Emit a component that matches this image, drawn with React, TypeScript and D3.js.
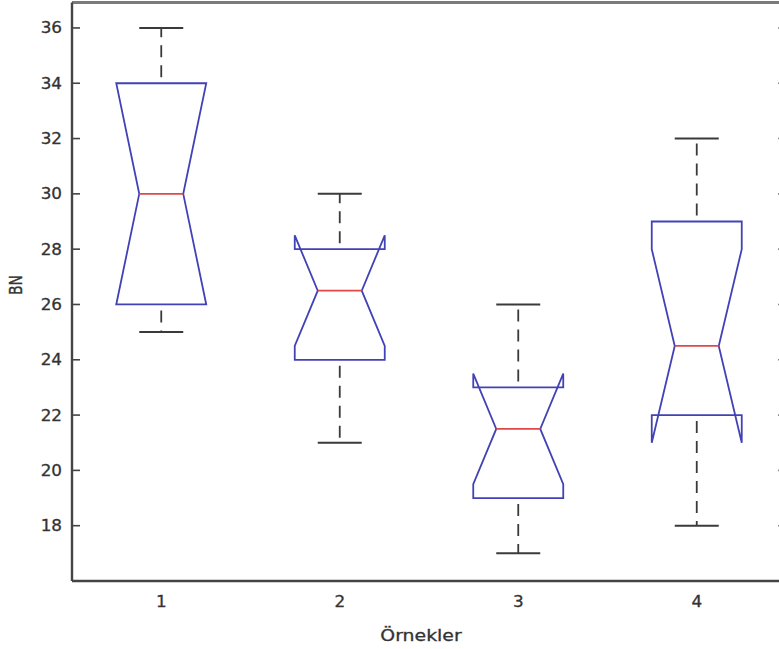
import { useEffect, useRef } from "react";
import * as d3 from "d3";

// boxplot stats (BN per sample)
const categories = ["1", "2", "3", "4"];
const whiskerLow = [25, 21, 17, 18];
const q1 = [26, 24, 19, 22];
const medians = [30, 26.5, 21.5, 24.5];
const q3 = [34, 28, 23, 29];
const whiskerHigh = [36, 30, 26, 32];
const notchLow = [26, 24.5, 19.5, 21];
const notchHigh = [34, 28.5, 23.5, 28];
const yTicks = [18, 20, 22, 24, 26, 28, 30, 32, 34, 36];

function BoxPlot() {
  const ref = useRef<SVGSVGElement | null>(null);
  const width = 779;
  const height = 649;

  useEffect(() => {
    const svg = d3.select(ref.current);
    svg.selectAll("*").remove();

    const x = d3.scaleLinear().domain([0.5, 4.5]).range([72, 786]);
    const y = d3.scaleLinear().domain([16, 36.92]).range([581, 2.5]);

    const boxHalf = 45;
    const notchHalf = 22;
    const capHalf = 22;
    const font = "'DejaVu Sans', Verdana, sans-serif";

    const data = categories.map((c, i) => ({
      pos: i + 1,
      label: c,
      lo: whiskerLow[i],
      q1: q1[i],
      med: medians[i],
      q3: q3[i],
      hi: whiskerHigh[i],
      nlo: notchLow[i],
      nhi: notchHigh[i],
    }));

    // frame
    svg.append("line")
      .attr("x1", x(0.5)).attr("x2", x(4.5))
      .attr("y1", y.range()[1]).attr("y2", y.range()[1])
      .attr("stroke", "#7a7a7a").attr("stroke-width", 3);
    svg.append("line")
      .attr("x1", x(0.5)).attr("x2", x(4.5))
      .attr("y1", y(16)).attr("y2", y(16))
      .attr("stroke", "#444").attr("stroke-width", 2.4);
    svg.append("line")
      .attr("x1", x(0.5)).attr("x2", x(0.5))
      .attr("y1", y.range()[1]).attr("y2", y(16))
      .attr("stroke", "#444").attr("stroke-width", 2.4);

    // y ticks, left and right (inward)
    const ticks = svg.append("g");
    ticks.selectAll("line.l")
      .data(yTicks)
      .join("line")
      .attr("class", "l")
      .attr("x1", x(0.5)).attr("x2", x(0.5) + 8)
      .attr("y1", d => y(d)).attr("y2", d => y(d))
      .attr("stroke", "#444").attr("stroke-width", 1.6);
    ticks.selectAll("line.r")
      .data(yTicks)
      .join("line")
      .attr("class", "r")
      .attr("x1", x(4.5) - 8).attr("x2", x(4.5))
      .attr("y1", d => y(d)).attr("y2", d => y(d))
      .attr("stroke", "#888").attr("stroke-width", 1.6);

    ticks.selectAll("text")
      .data(yTicks)
      .join("text")
      .attr("transform", d => `translate(${x(0.5) - 10},${y(d) + 5.5}) scale(1.12,1)`)
      .attr("text-anchor", "end")
      .attr("font-family", font)
      .attr("font-size", 15)
      .attr("fill", "#333")
      .attr("stroke", "#333")
      .attr("stroke-width", 0.3)
      .text(d => d);

    svg.append("g").selectAll("text")
      .data(data)
      .join("text")
      .attr("transform", d => `translate(${x(d.pos)},${607}) scale(1.12,1)`)
      .attr("text-anchor", "middle")
      .attr("font-family", font)
      .attr("font-size", 15)
      .attr("fill", "#333")
      .attr("stroke", "#333")
      .attr("stroke-width", 0.3)
      .text(d => d.label);

    // axis titles
    svg.append("text")
      .attr("transform", `translate(421,641) scale(1.26,1)`)
      .attr("text-anchor", "middle")
      .attr("font-family", font)
      .attr("font-size", 15)
      .attr("fill", "#333")
      .attr("stroke", "#333")
      .attr("stroke-width", 0.3)
      .text("Örnekler");

    svg.append("text")
      .attr("transform", `translate(22,285) scale(1.2,1) rotate(-90)`)
      .attr("text-anchor", "middle")
      .attr("font-family", font)
      .attr("font-size", 14)
      .attr("fill", "#333")
      .attr("stroke", "#333")
      .attr("stroke-width", 0.3)
      .text("BN");

    const boxes = svg.append("g").selectAll("g")
      .data(data)
      .join("g");

    // whiskers
    boxes.append("line")
      .attr("x1", d => x(d.pos)).attr("x2", d => x(d.pos))
      .attr("y1", d => y(d.q3)).attr("y2", d => y(d.hi))
      .attr("stroke", "#3a3a3a").attr("stroke-width", 1.8)
      .attr("stroke-dasharray", "12,8")
      .attr("stroke-dashoffset", -6);
    boxes.append("line")
      .attr("x1", d => x(d.pos)).attr("x2", d => x(d.pos))
      .attr("y1", d => y(d.q1)).attr("y2", d => y(d.lo))
      .attr("stroke", "#3a3a3a").attr("stroke-width", 1.8)
      .attr("stroke-dasharray", "12,8")
      .attr("stroke-dashoffset", -6);

    // caps
    boxes.append("line")
      .attr("x1", d => x(d.pos) - capHalf).attr("x2", d => x(d.pos) + capHalf)
      .attr("y1", d => y(d.hi)).attr("y2", d => y(d.hi))
      .attr("stroke", "#3a3a3a").attr("stroke-width", 2);
    boxes.append("line")
      .attr("x1", d => x(d.pos) - capHalf).attr("x2", d => x(d.pos) + capHalf)
      .attr("y1", d => y(d.lo)).attr("y2", d => y(d.lo))
      .attr("stroke", "#3a3a3a").attr("stroke-width", 2);

    // notched box outline
    boxes.append("path")
      .attr("d", d => {
        const cx = x(d.pos);
        const L = cx - boxHalf;
        const R = cx + boxHalf;
        const pts: [number, number][] = [
          [L, y(d.q1)],
          [L, y(d.nlo)],
          [cx - notchHalf, y(d.med)],
          [L, y(d.nhi)],
          [L, y(d.q3)],
          [R, y(d.q3)],
          [R, y(d.nhi)],
          [cx + notchHalf, y(d.med)],
          [R, y(d.nlo)],
          [R, y(d.q1)],
        ];
        return d3.line()(pts) + "Z";
      })
      .attr("fill", "none")
      .attr("stroke", "#4242b6")
      .attr("stroke-width", 1.8)
      .attr("stroke-linejoin", "miter");

    // medians
    boxes.append("line")
      .attr("x1", d => x(d.pos) - notchHalf).attr("x2", d => x(d.pos) + notchHalf)
      .attr("y1", d => y(d.med)).attr("y2", d => y(d.med))
      .attr("stroke", "#e04848").attr("stroke-width", 1.8);
  }, []);

  return (
    <svg
      ref={ref}
      width={width}
      height={height}
      style={{ position: "absolute", left: 0, top: 0, background: "#fff" }}
    />
  );
}

export default function App() {
  return <BoxPlot />;
}
